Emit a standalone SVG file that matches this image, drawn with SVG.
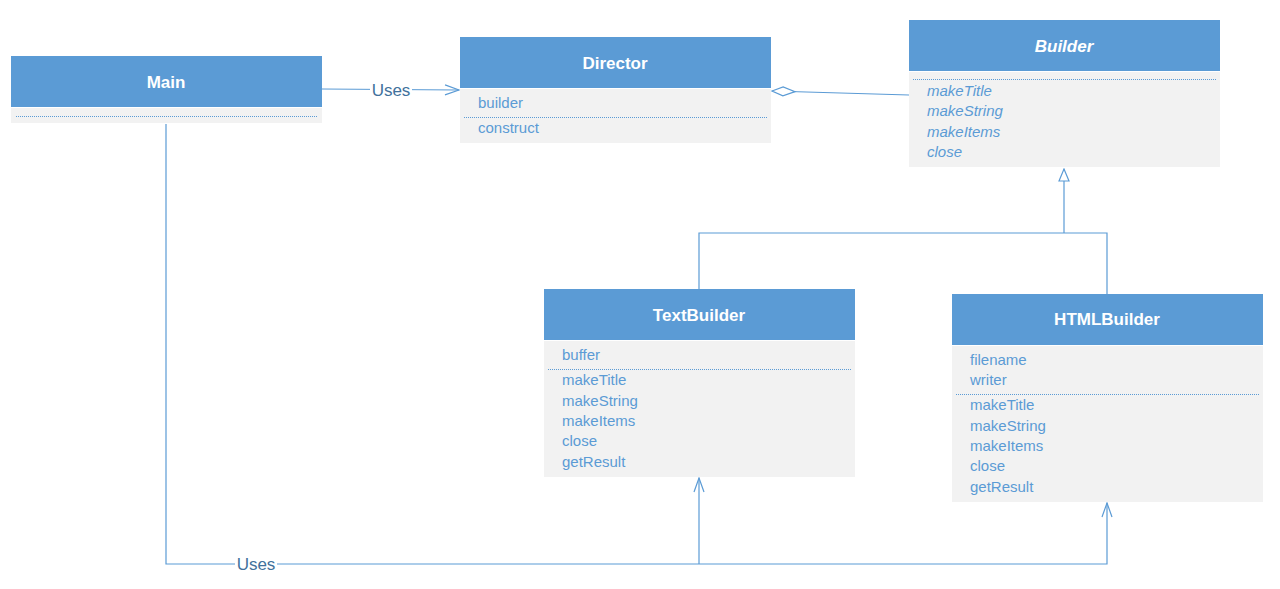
<svg xmlns="http://www.w3.org/2000/svg" width="1280" height="589" viewBox="0 0 1280 589">
<style>
.hd{fill:#5B9BD5}
.bd{fill:#F2F2F2}
.t{font-family:"Liberation Sans",Arial,sans-serif;font-size:17px;font-weight:bold;fill:#fff;text-anchor:middle}
.m{font-family:"Liberation Sans",Arial,sans-serif;font-size:15px;fill:#5B9BD5}
.i{font-style:italic}
.dot{stroke:#5B9BD5;stroke-width:1;stroke-dasharray:1 1;fill:none}
.ln{stroke:#5B9BD5;stroke-width:1.2;fill:none}
.lbl{font-family:"Liberation Sans",Arial,sans-serif;font-size:17px;fill:#41719C;text-anchor:middle}
</style>
<defs>
<marker id="open" markerWidth="16" markerHeight="12" refX="15" refY="6" orient="auto" markerUnits="userSpaceOnUse">
<path d="M1,1 L15,6 L1,11" fill="none" stroke="#5B9BD5" stroke-width="1.2"/>
</marker>
<marker id="tri" markerWidth="14" markerHeight="14" refX="13" refY="6" orient="auto" markerUnits="userSpaceOnUse">
<path d="M1,1 L13,6 L1,11 Z" fill="#fff" stroke="#5B9BD5" stroke-width="1.2"/>
</marker>
<marker id="dia" markerWidth="26" markerHeight="12" refX="1" refY="6" orient="auto" markerUnits="userSpaceOnUse">
<path d="M1,6 L12,1.5 L24,6 L12,10.5 Z" fill="#fff" stroke="#5B9BD5" stroke-width="1.2"/>
</marker>
</defs>

<g id="connectors">
<path class="ln" d="M322,89 L459,90" marker-end="url(#open)"/>
<rect x="370" y="80" width="42" height="20" fill="#fff"/>
<text class="lbl" x="391" y="96">Uses</text>
<path class="ln" d="M772,91 L909,95" marker-start="url(#dia)"/>
<path class="ln" d="M699,289 L699,233 L1107,233 L1107,294"/>
<path class="ln" d="M1064,233 L1064,169" marker-end="url(#tri)"/>
<path class="ln" d="M166,124 L166,564 L1107,564 L1107,503" marker-end="url(#open)"/>
<path class="ln" d="M699,564 L699,478" marker-end="url(#open)"/>
<rect x="235" y="554" width="42" height="20" fill="#fff"/>
<text class="lbl" x="256" y="570">Uses</text>
</g>

<g id="main">
<rect class="hd" x="11" y="56" width="311" height="51"/>
<rect class="bd" x="11" y="108" width="311" height="15"/>
<text class="t" x="166" y="88">Main</text>
<line class="dot" x1="16" y1="116.5" x2="317" y2="116.5"/>
</g>

<g id="director">
<rect class="hd" x="460" y="37" width="311" height="51"/>
<rect class="bd" x="460" y="89" width="311" height="54"/>
<text class="t" x="615" y="69">Director</text>
<text class="m" x="478" y="108">builder</text>
<line class="dot" x1="464" y1="117.5" x2="767" y2="117.5"/>
<text class="m" x="478" y="133">construct</text>
</g>

<g id="builder">
<rect class="hd" x="909" y="20" width="311" height="51"/>
<rect class="bd" x="909" y="72" width="311" height="95"/>
<text class="t i" x="1064" y="52">Builder</text>
<line class="dot" x1="913" y1="79.5" x2="1216" y2="79.5"/>
<text class="m i" x="927" y="96">makeTitle</text>
<text class="m i" x="927" y="116">makeString</text>
<text class="m i" x="927" y="137">makeItems</text>
<text class="m i" x="927" y="157">close</text>
</g>

<g id="textbuilder">
<rect class="hd" x="544" y="289" width="311" height="51"/>
<rect class="bd" x="544" y="341" width="311" height="136"/>
<text class="t" x="699" y="321">TextBuilder</text>
<text class="m" x="562" y="360">buffer</text>
<line class="dot" x1="548" y1="369.5" x2="851" y2="369.5"/>
<text class="m" x="562" y="385">makeTitle</text>
<text class="m" x="562" y="406">makeString</text>
<text class="m" x="562" y="426">makeItems</text>
<text class="m" x="562" y="446">close</text>
<text class="m" x="562" y="467">getResult</text>
</g>

<g id="htmlbuilder">
<rect class="hd" x="952" y="294" width="311" height="51"/>
<rect class="bd" x="952" y="346" width="311" height="156"/>
<text class="t" x="1107" y="325">HTMLBuilder</text>
<text class="m" x="970" y="365">filename</text>
<text class="m" x="970" y="385">writer</text>
<line class="dot" x1="956" y1="394.5" x2="1259" y2="394.5"/>
<text class="m" x="970" y="410">makeTitle</text>
<text class="m" x="970" y="431">makeString</text>
<text class="m" x="970" y="451">makeItems</text>
<text class="m" x="970" y="471">close</text>
<text class="m" x="970" y="492">getResult</text>
</g>
</svg>
